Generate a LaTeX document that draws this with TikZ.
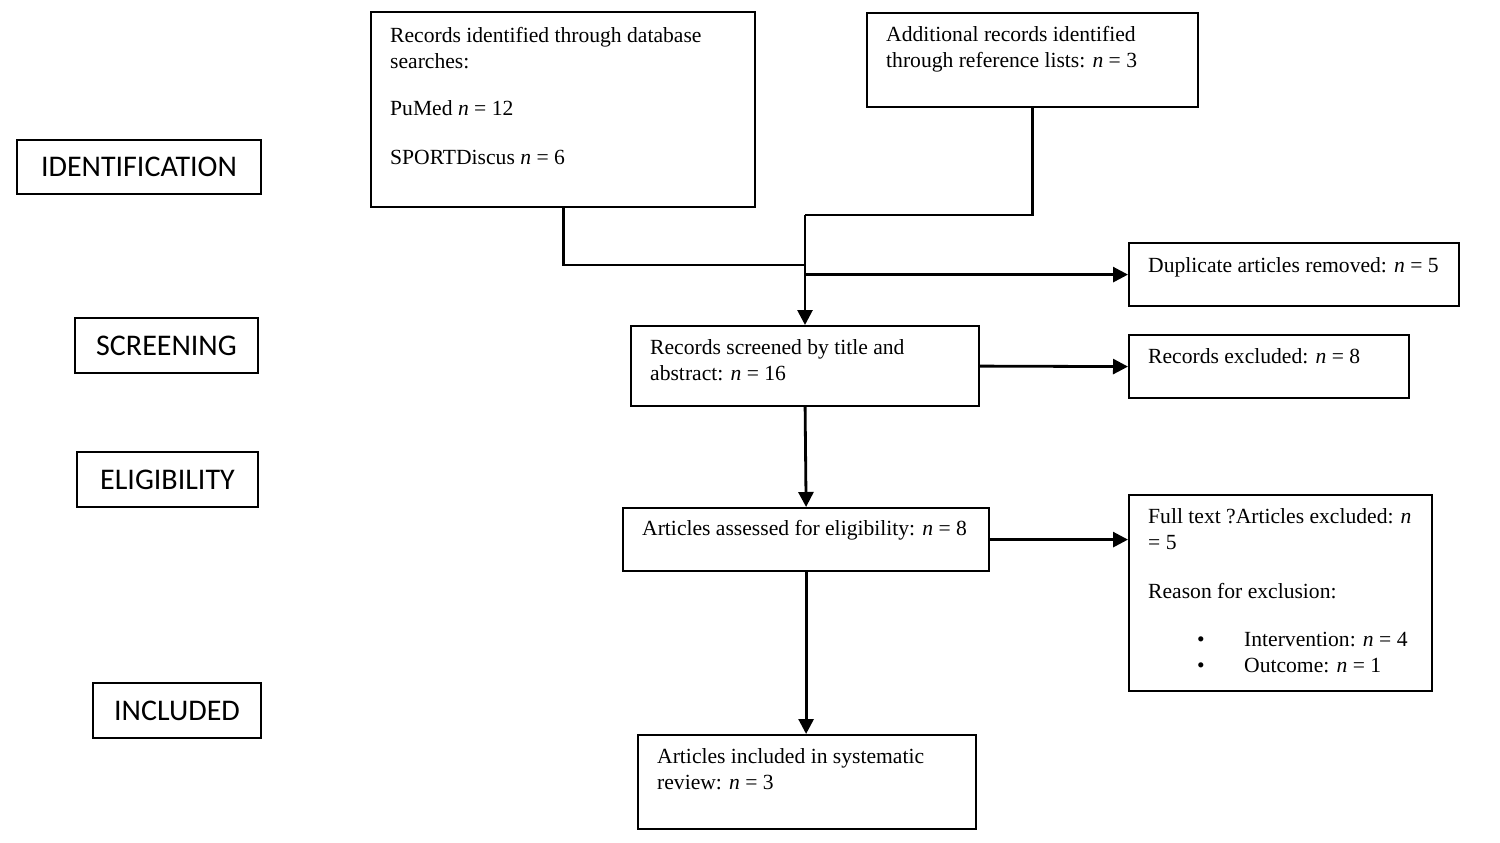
\documentclass[tikz,border=0pt]{standalone}
\usepackage{fontspec}
\setmainfont{Liberation Serif}
\newfontfamily\stagefont{Carlito}
\usetikzlibrary{arrows.meta,calc}
\begin{document}
\begin{tikzpicture}[x=1pt,y=-1pt,
  box/.style={draw,line width=2.2pt,inner sep=0pt,anchor=north west},
  stage/.style={draw,line width=2.2pt,inner sep=0pt,font=\stagefont\fontsize{30}{34}\selectfont},
  txt/.style={anchor=north west,inner sep=0pt,align=left,font=\fontsize{21.6}{26}\selectfont},
  conn/.style={line width=2.8pt},
  arr/.style={line width=2.8pt,-{Triangle[length=15pt,width=15pt]}}]
\useasboundingbox (0,0) rectangle (1500,843);
% main boxes
\node[box,minimum width=384pt,minimum height=195pt] (A) at (370,11) {};
\node[box,minimum width=331pt,minimum height=94pt] (B) at (866,12) {};
\node[box,minimum width=330pt,minimum height=63pt] (D) at (1128,242) {};
\node[box,minimum width=348pt,minimum height=80pt] (S) at (630,325) {};
\node[box,minimum width=280pt,minimum height=63pt] (R) at (1128,334) {};
\node[box,minimum width=366pt,minimum height=63pt] (E) at (622,507) {};
\node[box,minimum width=303pt,minimum height=196pt] (F) at (1128,494) {};
\node[box,minimum width=338pt,minimum height=94pt] (I) at (637,734) {};
% texts
\node[txt] (tA) at (390,24) {\strut Records identified through database\\ searches:\\[21pt] PuMed \textit{n} = 12\\[23pt] SPORTDiscus \textit{n} = 6};
\node[txt] (tB) at (886,23) {\strut Additional records identified\\ through reference lists: \textit{n} = 3};
\node[txt] (tD) at (1148,254) {\strut Duplicate articles removed: \textit{n} = 5};
\node[txt] (tS) at (650,336) {\strut Records screened by title and\\ abstract: \textit{n} = 16};
\node[txt] (tR) at (1148,345) {\strut Records excluded: \textit{n} = 8};
\node[txt] (tE) at (642,517) {\strut Articles assessed for eligibility: \textit{n} = 8};
\node[txt] (tF) at (1148,505) {\strut Full text ?Articles excluded: \textit{n}\\ = 5\\[23pt] Reason for exclusion:\\[22pt] \hspace*{49pt}\makebox[47pt][l]{•}Intervention: \textit{n} = 4\\ \hspace*{49pt}\makebox[47pt][l]{•}Outcome: \textit{n} = 1};
\node[txt] (tI) at (657,745) {\strut Articles included in systematic\\ review: \textit{n} = 3};
% stage labels
\node[stage,minimum width=244pt,minimum height=54pt] (s1) at (139,167) {IDENTIFICATION};
\node[stage,minimum width=183pt,minimum height=55pt] (s2) at (166.5,345.5) {SCREENING};
\node[stage,minimum width=181pt,minimum height=55pt] (s3) at (167.5,479.5) {ELIGIBILITY};
\node[stage,minimum width=168pt,minimum height=55pt] (s4) at (177,710.5) {INCLUDED};
% connectors
\coordinate (jb) at (805,215);
\coordinate (ja) at (805,265);
\draw[conn] (A.south) |- (ja);
\draw[conn] (B.south) |- (jb);
\draw[arr] (jb) -- (jb |- S.north);
\draw[arr] (ja |- D.west) -- (D.west);
\draw[arr] (S.east) -- (R.west);
\draw[arr] (S.south) -- (E.north);
\draw[arr] (E.east) -- (E.east -| F.west);
\draw[arr] (E.south) -- (E.south |- I.north);
\end{tikzpicture}
\end{document}
